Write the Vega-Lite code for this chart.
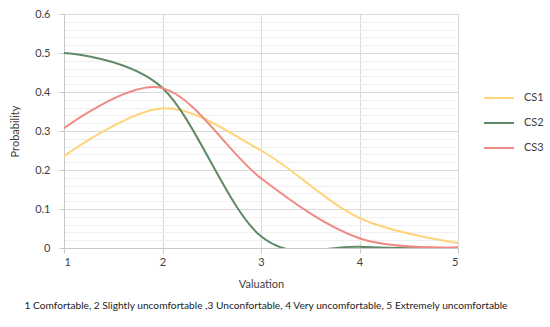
{
  "$schema": "https://vega.github.io/schema/vega-lite/v6.json",
  "width": 394,
  "height": 234,
  "autosize": {"type": "none"},
  "padding": {"left": 64, "top": 14, "right": 92, "bottom": 79},
  "background": "white",
  "config": {
    "font": "Lato",
    "view": {"stroke": null},
    "axis": {"labelFont": "Lato", "titleFont": "Lato", "labelColor": "#404040", "titleColor": "#404040", "labelFontSize": 11, "titleFontSize": 11, "titleFontWeight": "normal"}
  },
  "title": {
    "text": "1 Comfortable, 2 Slightly uncomfortable ,3 Unconfortable, 4 Very uncomfortable, 5 Extremely uncomfortable",
    "orient": "bottom",
    "anchor": "middle",
    "frame": "group",
    "fontSize": 10.2,
    "fontWeight": "normal",
    "font": "Lato",
    "color": "#222222",
    "offset": 12,
    "dx": 5
  },
  "data": {
    "values": [
      {"Valuation": 1, "Probability": 0.235, "Series": "CS1"},
      {"Valuation": 2, "Probability": 0.358, "Series": "CS1"},
      {"Valuation": 3, "Probability": 0.25, "Series": "CS1"},
      {"Valuation": 4, "Probability": 0.077, "Series": "CS1"},
      {"Valuation": 5, "Probability": 0.013, "Series": "CS1"},
      {"Valuation": 1, "Probability": 0.5, "Series": "CS2"},
      {"Valuation": 2, "Probability": 0.41, "Series": "CS2"},
      {"Valuation": 3, "Probability": 0.03, "Series": "CS2"},
      {"Valuation": 4, "Probability": 0.003, "Series": "CS2"},
      {"Valuation": 5, "Probability": 0.0, "Series": "CS2"},
      {"Valuation": 1, "Probability": 0.307, "Series": "CS3"},
      {"Valuation": 2, "Probability": 0.41, "Series": "CS3"},
      {"Valuation": 3, "Probability": 0.179, "Series": "CS3"},
      {"Valuation": 4, "Probability": 0.025, "Series": "CS3"},
      {"Valuation": 5, "Probability": 0.002, "Series": "CS3"}
    ]
  },
  "mark": {"type": "line", "interpolate": "cardinal", "strokeWidth": 2, "clip": true},
  "encoding": {
    "x": {
      "field": "Valuation",
      "type": "quantitative",
      "scale": {"domain": [1, 5], "nice": false, "zero": false},
      "axis": {
        "values": [1, 2, 3, 4, 5],
        "format": "d",
        "grid": true,
        "gridColor": "#d9d9d9",
        "domainColor": "#c8c8c8",
        "tickColor": "#c8c8c8",
        "tickSize": 5,
        "labelPadding": 3,
        "title": "Valuation",
        "titlePadding": 11
      }
    },
    "y": {
      "field": "Probability",
      "type": "quantitative",
      "scale": {"domain": [0, 0.6], "nice": false},
      "axis": {
        "values": [0, 0.02, 0.04, 0.06, 0.08, 0.1, 0.12, 0.14, 0.16, 0.18, 0.2, 0.22, 0.24, 0.26, 0.28, 0.3, 0.32, 0.34, 0.36, 0.38, 0.4, 0.42, 0.44, 0.46, 0.48, 0.5, 0.52, 0.54, 0.56, 0.58, 0.6],
        "labelExpr": "abs(datum.value*10 - round(datum.value*10)) < 0.001 ? format(datum.value, '~g') : ''",
        "grid": true,
        "gridColor": {"condition": {"test": "abs(datum.value*10 - round(datum.value*10)) < 0.001", "value": "#d9d9d9"}, "value": "#f0f0f0"},
        "tickColor": {"condition": {"test": "abs(datum.value*10 - round(datum.value*10)) < 0.001", "value": "#c8c8c8"}, "value": "transparent"},
        "tickSize": 5,
        "domainColor": "#c8c8c8",
        "labelPadding": 9,
        "title": "Probability",
        "titlePadding": 14
      }
    },
    "color": {
      "field": "Series",
      "type": "nominal",
      "scale": {"domain": ["CS1", "CS2", "CS3"], "range": ["#FFD47A", "#5F8A68", "#EE8B84"]},
      "legend": {
        "title": null,
        "orient": "none",
        "legendX": 419,
        "legendY": 68,
        "symbolType": "stroke",
        "symbolSize": 900,
        "symbolStrokeWidth": 2,
        "rowPadding": 4,
        "labelFontSize": 11,
        "labelColor": "#404040",
        "labelFont": "Lato",
        "labelOffset": 9
      }
    }
  }
}
